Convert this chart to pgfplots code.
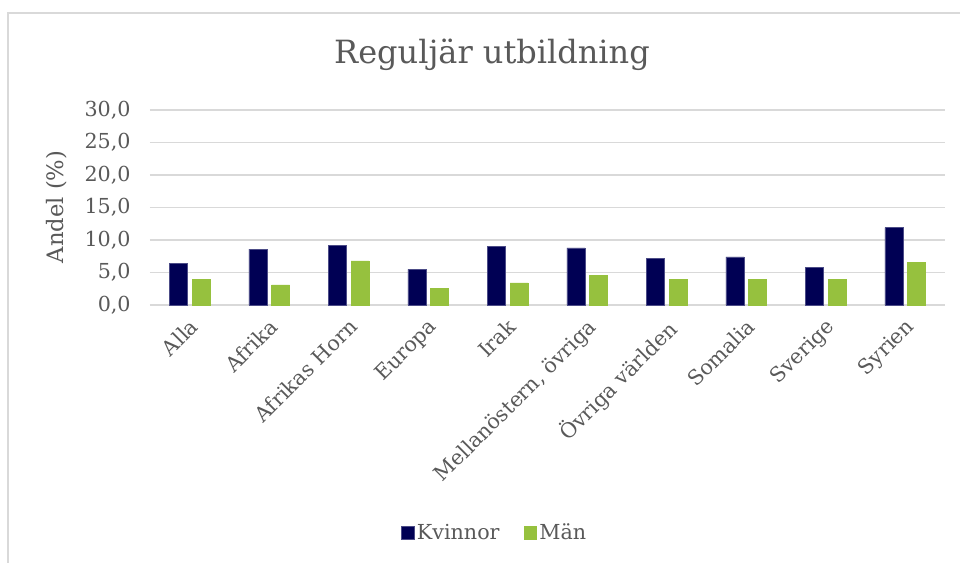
\documentclass[border=0pt]{standalone}
\usepackage{fontspec}
\setmainfont{DejaVu Serif}
\usepackage{pgfplots}
\pgfplotsset{compat=1.18}
\definecolor{kvNavy}{RGB}{0,0,84}
\definecolor{manGreen}{RGB}{150,193,62}
\definecolor{txtGray}{RGB}{89,89,89}
\definecolor{gridGray}{RGB}{217,217,217}

\begin{document}
\begin{tikzpicture}[x=1pt,y=1pt]
\useasboundingbox (-112.5,-193.5) rectangle (607.5,228.75);
% chart frame
\draw[gridGray,line width=1pt] (-106.5,-200) -- (-106.5,219) -- (620,219);
\begin{axis}[
    at={(0,0)}, anchor=south west,
    scale only axis,
    width=596.25pt, height=146.25pt,
    ybar, bar width=13.5pt,
    ymin=0, ymax=30,
    xmin=-0.5, xmax=9.5,
    ytick={0,5,10,15,20,25,30},
    yticklabels={{0,0},{5,0},{10,0},{15,0},{20,0},{25,0},{30,0}},
    xtick=data,
    xticklabels={Alla,Afrika,Afrikas Horn,Europa,Irak,{Mellanöstern, övriga},Övriga världen,Somalia,Sverige,Syrien},
    xticklabel style={xshift=-1pt,yshift=-9pt,rotate=45,anchor=north east,font=\fontsize{15.5}{18}\selectfont,text=txtGray,inner sep=0pt},
    yticklabel style={font=\fontsize{15.5}{18}\selectfont,text=txtGray,xshift=-11pt},
    major tick length=0pt,
    ymajorgrids=true,
    grid style={draw=gridGray,line width=1pt},
    axis x line*=bottom,
    axis y line*=left,
    y axis line style={draw=none},
    x axis line style={draw=gridGray,line width=1pt,-},
    legend style={at={(258.75pt,-171pt)},anchor=center,draw=none,fill=none,
        font=\fontsize{15.5}{18}\selectfont,text=txtGray,legend columns=2,
        /tikz/every even column/.append style={column sep=16pt}},
    legend image code/.code={\fill[#1] (0pt,-4.75pt) rectangle (9.5pt,4.75pt);},
    clip=false,
]
\addplot[fill=kvNavy,draw=kvNavy!70!white,bar shift=-8.5pt] coordinates {
    (0,6.4) (1,8.6) (2,9.2) (3,5.5) (4,9.0) (5,8.8) (6,7.2) (7,7.4) (8,5.8) (9,11.9)
};
\addlegendentry{Kvinnor}
\addplot[fill=manGreen,draw=manGreen,bar shift=8.5pt] coordinates {
    (0,3.9) (1,3.1) (2,6.8) (3,2.5) (4,3.4) (5,4.5) (6,4.0) (7,3.9) (8,4.0) (9,6.5)
};
\addlegendentry{Män}
\end{axis}
\node[text=txtGray,font=\fontsize{24}{28}\selectfont] at (256.5,187.5) {Reguljär utbildning};
\node[text=txtGray,font=\fontsize{17}{20}\selectfont,rotate=90] at (-69.75,73.5) {Andel (\%)};
\end{tikzpicture}
\end{document}
